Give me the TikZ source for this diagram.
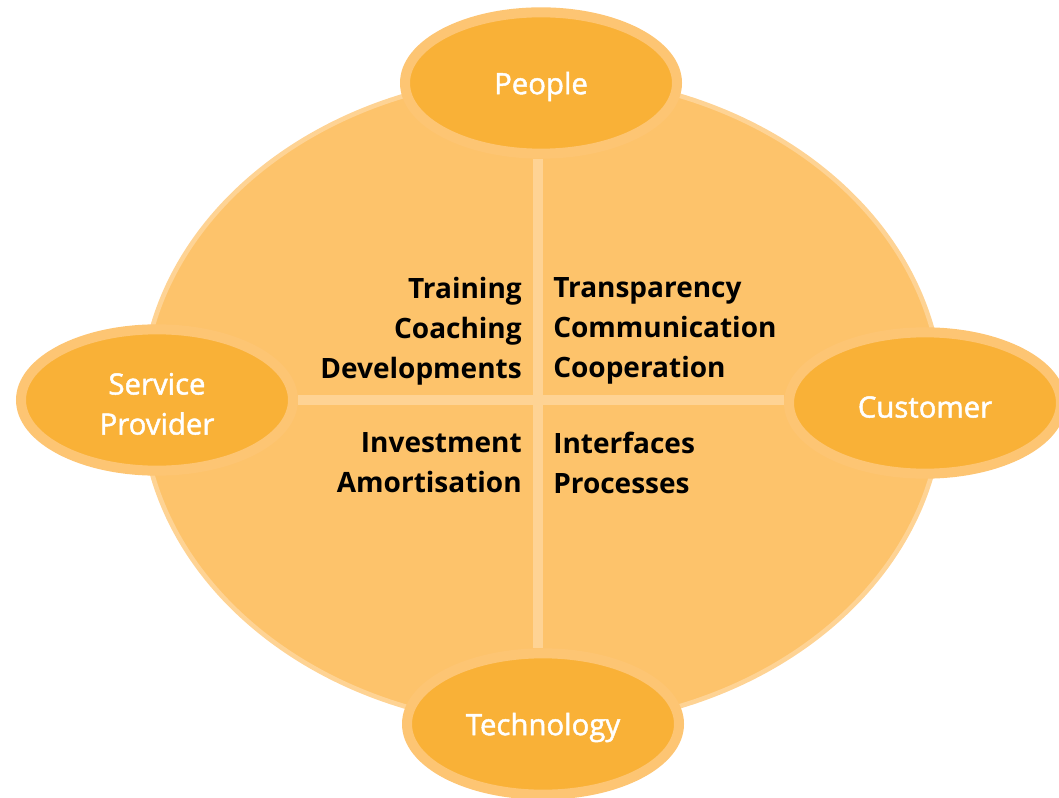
\documentclass[tikz,border=0pt]{standalone}
\usepackage{fontspec}
\setmainfont{Open Sans}
\newfontfamily\semibold{Open Sans}[FakeBold=1.6]
\usepackage{tikz}
\usetikzlibrary{shapes.geometric}
\definecolor{ringfill}{HTML}{FDC36B}
\definecolor{ringline}{HTML}{FED394}
\definecolor{bubfill}{HTML}{F9B137}
\definecolor{bubline}{HTML}{FDC573}
% extra room above the first line of a bubble
\newcommand{\tallstrut}{\rule{0pt}{22pt}}
\tikzset{
  bubble/.style={ellipse,fill=bubfill,draw=bubline,line width=7.5pt,inner sep=0pt,
    minimum width=204pt,minimum height=106pt,text=white,align=center,
    font=\fontsize{22}{30}\semibold},
  item/.style={inner sep=0pt,font=\fontsize{21}{30}\selectfont\bfseries},
  cross/.style={ringline,line width=7.5pt}
}
\begin{document}
\begin{tikzpicture}[x=0.75pt,y=-0.75pt]
\useasboundingbox (0,0) rectangle (1059,798);
% the large disc
\draw[fill=ringfill,draw=ringline,line width=3.5pt] (542,401) ellipse [x radius=400,y radius=325];
\coordinate (mid) at (538,400);
% the four bubbles
\node[bubble] (people) at (541,83) {\tallstrut People};
\node[bubble] (provider) at (157,400) {\tallstrut Service\\Provider};
\node[bubble] (customer) at (925,403) {\tallstrut Customer};
\node[bubble] (tech) at (543,724) {\tallstrut Technology};
% cross
\draw[cross] (people.south -| mid) -- (tech.north -| mid);
\draw[cross] (provider.east |- mid) -- (customer.west |- mid);
% quarter texts
\node[item,align=right,anchor=east] (tl) at (522,331) {Training\\Coaching\\Developments};
\node[item,align=left,anchor=west] (tr) at (553,331) {Transparency\\Communication\\Cooperation};
\node[item,align=right,anchor=east] (bl) at (522,463) {Investment\\Amortisation};
\node[item,align=left,anchor=west] (br) at (553,463) {Interfaces\\Processes};
\end{tikzpicture}
\end{document}
